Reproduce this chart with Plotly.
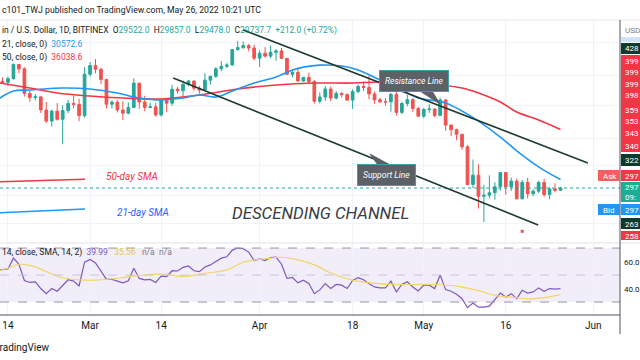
import math
import pandas as pd
import plotly.graph_objects as go

# ---------------- data ----------------
dates = [d.strftime("%Y-%m-%d") for d in pd.date_range("2022-02-12", "2022-05-26", freq="D")]

opens = [42390, 42210, 42060, 42560, 44580, 43960, 40560, 40000, 40100, 38410, 37040, 38260, 37260, 38340, 39230, 39110, 37710,
         43190, 44430, 43900, 42460, 39150, 39400, 38420, 38010, 38740, 41950, 39420, 38730, 38810, 37790, 39670, 39280, 41120,
         40920, 41770, 42240, 41260, 41000, 42360, 42890, 43960, 44330, 44530, 46820, 47130, 47440, 47060,
         45530, 46280, 45830, 46420, 46620, 45500, 43170, 43440, 42250, 42750, 42160, 39530, 40080, 41150, 39940, 40550,
         40390, 39680, 40800, 41500, 41360, 40480, 39710, 39450, 39450, 40430, 38110, 39240, 39740, 38600,
         37640, 38470, 38520, 37730, 39690, 36550, 36010, 35470, 34040, 30080, 31020, 28940, 29050, 29280, 29860, 31290,
         29860, 30420, 28700, 30300, 29180, 29430, 30280, 29100, 29650, 29522]
highs = [43000, 42750, 42880, 44750, 44580, 44200, 40970, 40470, 40130, 39450, 38450, 39300, 39000, 39700, 40260, 39850, 44220,
         44950, 45400, 44100, 42520, 39640, 39700, 39550, 39370, 42600, 41950, 40240, 39360, 39300, 39900, 39870, 41700,
         41460, 42300, 42400, 42300, 41540, 43350, 42990, 44200, 45100, 44800, 46930, 48190, 48100, 47700, 47600,
         46700, 47200, 47430, 46880, 47100, 45500, 43880, 43940, 42780, 43420, 42400, 40690, 41550, 41500, 40860, 40700,
         40600, 41120, 41750, 42180, 42980, 40800, 39980, 39930, 40620, 40790, 39460, 40380, 39930, 38800,
         38660, 39160, 38630, 40000, 39820, 36640, 36130, 35500, 34230, 32650, 32150, 30050, 30990, 30300, 31300, 31320,
         30770, 30680, 30520, 30730, 29620, 30450, 30640, 29810, 30200, 29857]
lows = [41750, 41870, 41570, 42440, 43330, 40120, 39470, 39650, 38020, 36800, 36370, 37080, 34330, 38020, 38620, 37020, 37470,
        42850, 43340, 41850, 38600, 38610, 38100, 37160, 37860, 38660, 38540, 38250, 38660, 37580, 37600, 38120, 38930,
        40530, 40140, 41540, 40920, 40520, 40890, 41760, 42680, 43620, 44080, 44420, 46650, 46950, 46580, 45200,
        44230, 45630, 45530, 45120, 45380, 43130, 42730, 42110, 42140, 41880, 39220, 39250, 39570, 39550, 39770, 40000,
        39570, 38540, 40570, 40880, 39780, 39180, 39320, 38960, 38200, 37700, 37890, 38880, 38180, 37590,
        37390, 38050, 37510, 37680, 35860, 35250, 34790, 33730, 30030, 29740, 27790, 26600, 28750, 28620, 29480, 29090,
        29460, 28660, 28670, 28740, 28940, 29260, 28890, 28660, 29310, 29478]
closes = [42210, 42060, 42560, 44580, 43960, 40560, 40000, 40100, 38410, 37040, 38260, 37260, 38340, 39230, 39110, 37710, 43190,
          44430, 43900, 42460, 39150, 39400, 38420, 38010, 38740, 41950, 39420, 38730, 38810, 37790, 39670, 39280, 41120,
          40920, 41770, 42240, 41260, 41000, 42360, 42890, 43960, 44330, 44530, 46820, 47130, 47440, 47060, 45530,
          46280, 45830, 46420, 46620, 45500, 43170, 43440, 42250, 42750, 42160, 39530, 40080, 41150, 39940, 40550, 40390,
          39680, 40800, 41500, 41360, 40480, 39710, 39450, 39450, 40430, 38110, 39240, 39740, 38600, 37640,
          38470, 38520, 37730, 39690, 36550, 36010, 35470, 34040, 30080, 31020, 28940, 29050, 29280, 29860, 31290, 29860,
          30420, 28700, 30300, 29180, 29430, 30280, 29100, 29650, 29520, 29737.7]

sma21_dates = ["2022-02-12", "2022-02-15", "2022-02-18", "2022-02-24", "2022-03-01", "2022-03-06", "2022-03-10",
               "2022-03-14", "2022-03-18", "2022-03-21", "2022-03-24", "2022-03-27", "2022-03-31", "2022-04-04",
               "2022-04-07", "2022-04-09", "2022-04-12", "2022-04-16", "2022-04-19", "2022-04-23", "2022-04-27",
               "2022-04-30", "2022-05-05", "2022-05-11", "2022-05-15", "2022-05-18", "2022-05-22", "2022-05-26"]
sma21_vals = [39690, 40880, 41010, 41280, 41150, 40610, 39950, 39690, 39950, 40345, 40080, 40880, 41960, 42800,
              43780, 44210, 44500, 44360, 43780, 42380, 41010, 39950, 39300, 37040, 35140, 33600, 31880, 30572.6]

sma50_dates = ["2022-02-12", "2022-02-18", "2022-02-23", "2022-03-01", "2022-03-07", "2022-03-14", "2022-03-21",
               "2022-03-28", "2022-04-04", "2022-04-11", "2022-04-18", "2022-04-23", "2022-04-30", "2022-05-04",
               "2022-05-08", "2022-05-11", "2022-05-15", "2022-05-18", "2022-05-22", "2022-05-26"]
sma50_vals = [42030, 41280, 40610, 40210, 39950, 39820, 40345, 41150, 41690, 41960, 41960, 42100, 41820, 41690,
              41280, 40610, 39430, 38160, 37170, 36038.6]

rsi_vals = [53.5, 53.8, 54.5, 62.5, 58, 46, 44.5, 45, 40, 36.2, 40, 38, 42.5, 46.5, 45.5, 42, 59.5,
            61.5, 59, 53, 46.8, 46.8, 45.5, 44.2, 45.8, 55, 47.5, 46.5, 46.8, 44.5, 49.2, 48.8, 53.2, 53, 55.7, 56.7,
            53.2, 52.5, 56, 57.5, 60, 62.5, 63.5, 68.5, 70, 69.5, 67, 60.7,
            62, 60.7, 63, 63.2, 58, 47.5, 48.2, 44.2, 46.2, 43.7, 36.2, 39, 43.7, 40, 43, 42.5, 40, 46, 48, 46.5,
            43.5, 41.2, 40.5, 40.5, 45.5, 37.5, 43, 45, 41.2, 38.2,
            42.5, 42.5, 40, 50, 39.2, 38, 35.8, 32.5, 25.8, 29.2, 26.2, 26.2, 27, 31.5, 36.7, 33.7, 36.2, 32.5, 38.7,
            36.7, 37.5, 40.5, 38, 40, 39.5, 39.99]

rsi_ma_dates = ["2022-02-12", "2022-02-14", "2022-02-16", "2022-02-19", "2022-02-21", "2022-02-24", "2022-02-28",
                "2022-03-03", "2022-03-07", "2022-03-11", "2022-03-15", "2022-03-18", "2022-03-22", "2022-03-26",
                "2022-03-29", "2022-04-03", "2022-04-05", "2022-04-08", "2022-04-11", "2022-04-14", "2022-04-18",
                "2022-04-22", "2022-04-26", "2022-04-29", "2022-05-03", "2022-05-07", "2022-05-11", "2022-05-14",
                "2022-05-18", "2022-05-20", "2022-05-23", "2022-05-26"]
rsi_ma_vals = [53, 55, 58, 56, 52.5, 48, 46.2, 46.5, 48, 50.2, 50.5, 48.8, 51.2, 53.8, 59.5, 62.5, 63.2, 61.2,
               57.5, 51.5, 46.2, 43.8, 43, 43, 43, 41.8, 38.5, 35, 33.2, 32.3, 33.3, 35.56]

# drawings (trend lines), in date / price
resistance_dates = ["2022-03-29", "2022-05-31"]
resistance_prices = [49930, 32280]
support_dates = ["2022-03-16 05:00", "2022-05-21 22:00"]
support_prices = [42660, 26340]
sma50_label_dates = ["2022-02-12 13:00", "2022-02-28 02:00"]
sma50_label_prices = [30360, 30600]
sma21_label_dates = ["2022-02-12 13:00", "2022-02-28 02:00"]
sma21_label_prices = [27424, 27757]
marker_date = ["2022-05-19"]
marker_price = [25800]

last_price = 29737.7
tick_dates = ["2022-02-14", "2022-03-01", "2022-03-14", "2022-04-01", "2022-04-18", "2022-05-01", "2022-05-16", "2022-06-01"]
tick_text = ["14", "Mar", "14", "Apr", "18", "May", "16", "Jun"]
price_grid = [48000, 43000, 39000, 35000, 32000, 29000, 26500]
rsi_grid = [60, 40]

x_range = ["2022-02-12 13:00", "2022-06-05 21:00"]
y_range = [math.log10(24911), math.log10(51597)]
rsi_range = [20.4, 73.0]

GREEN = "#26a69a"
RED = "#ef5350"
BLUE = "#2196f3"
MA50 = "#f23645"
DARK = "#131722"
FONT = "Roboto"
NB = "\u00a0"

def px(x):
    return x / 640.0

def py(y):
    return 1 - y / 360.0

fig = go.Figure()

fig.add_trace(go.Scatter(x=sma50_dates, y=sma50_vals, mode="lines", line=dict(color=MA50, width=1.6, shape="spline"),
                         hoverinfo="skip", showlegend=False))
fig.add_trace(go.Scatter(x=sma21_dates, y=sma21_vals, mode="lines", line=dict(color=BLUE, width=1.6, shape="spline"),
                         hoverinfo="skip", showlegend=False))
fig.add_trace(go.Candlestick(x=dates, open=opens, high=highs, low=lows, close=closes,
                             increasing=dict(line=dict(color=GREEN, width=1), fillcolor=GREEN),
                             decreasing=dict(line=dict(color=RED, width=1), fillcolor=RED),
                             whiskerwidth=0, hoverinfo="skip", showlegend=False))
fig.add_trace(go.Scatter(x=[x_range[0], x_range[1]], y=[last_price, last_price], mode="lines",
                         line=dict(color=GREEN, width=1, dash="dot"), hoverinfo="skip", showlegend=False))
for dx, dy, col in [(resistance_dates, resistance_prices, "#1d3a30"), (support_dates, support_prices, "#1d3a30"),
                    (sma50_label_dates, sma50_label_prices, MA50), (sma21_label_dates, sma21_label_prices, BLUE)]:
    fig.add_trace(go.Scatter(x=dx, y=dy, mode="lines", line=dict(color=col, width=1.6),
                             hoverinfo="skip", showlegend=False))
fig.add_trace(go.Scatter(x=marker_date, y=marker_price, mode="markers",
                         marker=dict(color=RED, size=3, symbol="square"), hoverinfo="skip", showlegend=False))

# RSI pane
fig.add_trace(go.Scatter(x=dates, y=rsi_vals, mode="lines", line=dict(color="#7e57c2", width=1.2),
                         xaxis="x2", yaxis="y2", hoverinfo="skip", showlegend=False))
fig.add_trace(go.Scatter(x=rsi_ma_dates, y=rsi_ma_vals, mode="lines", line=dict(color="#f2d46a", width=1.2, shape="spline"),
                         xaxis="x2", yaxis="y2", hoverinfo="skip", showlegend=False))

shapes = []
shapes.append(dict(type="rect", xref="x2 domain", yref="y2", x0=0, x1=1, y0=30, y1=70,
                   fillcolor="rgba(126,87,194,0.10)", line=dict(width=0), layer="below"))
for lvl, dash, col in [(70, "dash", "#9598a1"), (50, "dash", "#c9c4d8"), (30, "dash", "#9598a1")]:
    shapes.append(dict(type="line", xref="x2 domain", yref="y2", x0=0, x1=1, y0=lvl, y1=lvl,
                       line=dict(color=col, width=1, dash=dash)))
# frame lines
shapes.append(dict(type="line", xref="paper", yref="paper", x0=0, x1=px(640), y0=py(20), y1=py(20),
                   line=dict(color="#e6e9f0", width=1)))
shapes.append(dict(type="line", xref="paper", yref="paper", x0=0, x1=px(640), y0=py(243), y1=py(243),
                   line=dict(color="#e0e3eb", width=1)))
shapes.append(dict(type="line", xref="paper", yref="paper", x0=0, x1=px(620), y0=py(315), y1=py(315),
                   line=dict(color="#50535e", width=1)))
shapes.append(dict(type="line", xref="paper", yref="paper", x0=px(620), x1=px(620), y0=py(20), y1=py(334),
                   line=dict(color="#50535e", width=1)))

annotations = []

def ann(x, y, text, size=8.5, color=DARK, anchor="left", **kw):
    annotations.append(dict(xref="paper", yref="paper", x=px(x), y=py(y), text=text, showarrow=False,
                            xanchor=anchor, yanchor="middle", font=dict(family=FONT, size=size, color=color), **kw))

# price axis boxes
ann(623, 30, "USD", size=8, color="#787b86")
shapes.append(dict(type="rect", xref="paper", yref="paper", x0=px(621), x1=px(640), y0=py(42), y1=py(37),
                   fillcolor="#cfe3fb", line=dict(width=0)))
boxes = [(43, 54, "#0e3b2d"), (55, 152, "#f23645"), (154, 166, "#0e3b2d"), (170, 181, "#f23645"),
         (182, 202, "#22ab94"), (204, 215, BLUE), (218, 229, "#0e3b2d"), (231, 240, "#f23645")]
for y0, y1, c in boxes:
    shapes.append(dict(type="rect", xref="paper", yref="paper", x0=px(621), x1=px(640), y0=py(y1), y1=py(y0),
                       fillcolor=c, line=dict(width=0)))
box_labels = [(49, "428"), (61, "399"), (73, "399"), (84, "399"), (96, "398"), (110, "359"), (121, "353"),
              (133, "343"), (146, "340"), (160, "322"), (176, "297"), (187, "297"), (197, "09:"), (210, "297"),
              (224, "263"), (236, "258")]
for y, t in box_labels:
    ann(623, y, t, size=8, color="white")
# Ask / Bid tags
shapes.append(dict(type="rect", xref="paper", yref="paper", x0=px(598), x1=px(620), y0=py(181), y1=py(170),
                   fillcolor="#f0605e", line=dict(width=0)))
shapes.append(dict(type="rect", xref="paper", yref="paper", x0=px(598), x1=px(620), y0=py(215), y1=py(204),
                   fillcolor=BLUE, line=dict(width=0)))
ann(601, 176, "Ask", size=8, color="white")
ann(601, 210, "Bid", size=8, color="white")
ann(622, 262, "60.0", size=8, color=DARK)
ann(622, 289, "40.0", size=8, color=DARK)

# header
ann(0, 10, "c101_TWJ published on TradingView.com, May 26, 2022 10:21 UTC", size=8.7)
g = lambda t: f"<span style='color:{GREEN}'>{t}</span>"
ann(0, 30, "in / U.S. Dollar, 1D, BITFINEX" + NB * 2 + "O" + g("29522.0") + NB * 2 + "H" + g("29857.0")
    + NB * 2 + "L" + g("29478.0") + NB * 2 + "C" + g("29737.7") + NB * 2 + g("+212.0 (+0.72%)"), size=8.5)
ann(0, 44, "21, close, 0)" + NB * 2 + f"<span style='color:{BLUE}'>30572.6</span>", size=8.5)
ann(0, 57, "50, close, 0)" + NB * 2 + f"<span style='color:{MA50}'>36038.6</span>", size=8.5)
ann(0, 253, "14, close, SMA, 14, 2)" + NB * 2 + "<span style='color:#7e57c2'>39.99</span>" + NB * 3
    + "<span style='color:#e7c64a'>35.56</span>" + NB * 3 + "<span style='color:#787b86'>n/a" + NB * 2 + "n/a</span>",
    size=8.5)

# drawing labels
ann(132, 176, "<i>50-day SMA</i>", size=10, color=MA50, anchor="center")
ann(143, 212, "<i>21-day SMA</i>", size=10, color="#2962ff", anchor="center")
ann(320, 213, "<i>DESCENDING CHANNEL</i>", size=16.8, color="#3a3d44", anchor="center")

# callouts
shapes.append(dict(type="path", xref="paper", yref="paper",
                   path=f"M {px(420)} {py(91)} L {px(440)} {py(104)} L {px(432)} {py(91)} Z",
                   fillcolor="#5b6167", line=dict(color="#5b6167", width=1)))
shapes.append(dict(type="path", xref="paper", yref="paper",
                   path=f"M {px(378)} {py(165)} L {px(370)} {py(154)} L {px(390)} {py(165)} Z",
                   fillcolor="#5b6167", line=dict(color="#5b6167", width=1)))
annotations.append(dict(xref="paper", yref="paper", x=px(414), y=py(81), text="<i>Resistance Line</i>",
                        showarrow=False, xanchor="center", yanchor="middle",
                        font=dict(family=FONT, size=8.5, color="white"), bgcolor="#5b6167",
                        bordercolor="#3d9fb0", borderwidth=1, borderpad=5))
annotations.append(dict(xref="paper", yref="paper", x=px(386), y=py(175), text="<i>Support Line</i>",
                        showarrow=False, xanchor="center", yanchor="middle",
                        font=dict(family=FONT, size=8.5, color="white"), bgcolor="#5b6167",
                        bordercolor="#3d9fb0", borderwidth=1, borderpad=5))

# watermark
ann(-8, 347, "TradingView", size=10, color=DARK)

fig.update_layout(
    width=640, height=360, margin=dict(l=0, r=0, t=0, b=0),
    paper_bgcolor="white", plot_bgcolor="white",
    showlegend=False, shapes=shapes, annotations=annotations,
    xaxis=dict(type="date", domain=[0, px(620)], range=x_range, anchor="y", rangeslider=dict(visible=False),
               tickmode="array", tickvals=tick_dates, showticklabels=False, showgrid=True, gridcolor="#f0f3fa",
               gridwidth=1, zeroline=False, fixedrange=True),
    yaxis=dict(type="log", domain=[py(242), py(20)], range=y_range, tickmode="array", tickvals=price_grid,
               showticklabels=False, showgrid=True, gridcolor="#f0f3fa", zeroline=False, fixedrange=True),
    xaxis2=dict(type="date", domain=[0, px(620)], range=x_range, anchor="y2", matches="x",
                tickmode="array", tickvals=tick_dates, ticktext=tick_text, showgrid=True, gridcolor="#f0f3fa",
                ticks="", ticklabelstandoff=3, tickfont=dict(family=FONT, size=10, color=DARK),
                zeroline=False, fixedrange=True),
    yaxis2=dict(domain=[py(315), py(244)], range=rsi_range, tickmode="array", tickvals=rsi_grid,
                showticklabels=False, showgrid=True, gridcolor="#eceff6", zeroline=False, fixedrange=True),
)

fig.write_html("out.html", config={"displayModeBar": False},
               post_script="document.body.style.margin='0px';document.body.style.padding='0px';")
